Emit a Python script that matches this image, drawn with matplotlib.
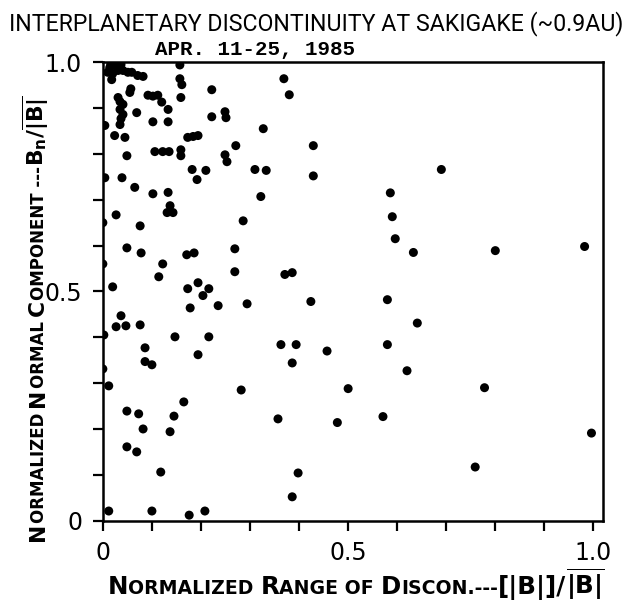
import matplotlib
matplotlib.use("Agg")
import matplotlib.pyplot as plt
from matplotlib.ticker import MultipleLocator, FixedLocator

# normalized range of discontinuity  [|B|]/<|B|>
range_norm = [
    0.016, 0.027, 0.037, 0.014, 0.024, 0.010, 0.020, 0.031, 0.041, 0.051,
    0.059, 0.071, 0.082, 0.018, 0.057, 0.055, 0.031, 0.035, 0.041, 0.035,
    0.041, 0.037, 0.035, 0.092, 0.102, 0.112, 0.120, 0.133, 0.157, 0.157,
    0.161, 0.159, 0.222, 0.069, 0.102, 0.133, 0.222, 0.249, 0.251, 0.004,
    0.024, 0.045, 0.327, 0.173, 0.184, 0.194, 0.271, 0.049, 0.106, 0.122,
    0.135, 0.159, 0.159, 0.249, 0.253, 0.182, 0.210, 0.192, 0.310, 0.333,
    0.004, 0.039, 0.065, 0.102, 0.133, 0.137, 0.322, 0.131, 0.143, 0.027,
    0.000, 0.076, 0.286, 0.049, 0.078, 0.171, 0.186, 0.269, 0.000, 0.122,
    0.269, 0.114, 0.020, 0.194, 0.173, 0.216, 0.204, 0.178, 0.235, 0.294,
    0.037, 0.027, 0.047, 0.076, 0.002, 0.147, 0.216, 0.086, 0.194, 0.086,
    0.100, 0.000, 0.012, 0.282, 0.165, 0.049, 0.073, 0.145, 0.082, 0.137,
    0.049, 0.069, 0.118, 0.012, 0.100, 0.176, 0.208, 0.369, 0.380, 0.429,
    0.429, 0.690, 0.586, 0.590, 0.596, 0.633, 0.371, 0.386, 0.424, 0.580,
    0.641, 0.363, 0.394, 0.386, 0.457, 0.580, 0.620, 0.500, 0.357, 0.478,
    0.571, 0.398, 0.386, 0.800, 0.982, 0.778, 0.996, 0.759,
]

# normalized normal component  Bn/<|B|>
normal_comp = [
    0.995, 0.998, 0.995, 0.988, 0.993, 0.978, 0.975, 0.982, 0.982, 0.978,
    0.978, 0.971, 0.969, 0.962, 0.942, 0.934, 0.923, 0.914, 0.908, 0.897,
    0.886, 0.877, 0.864, 0.928, 0.926, 0.928, 0.913, 0.897, 0.994, 0.964,
    0.951, 0.923, 0.940, 0.890, 0.870, 0.870, 0.881, 0.892, 0.879, 0.862,
    0.840, 0.836, 0.855, 0.836, 0.838, 0.840, 0.818, 0.796, 0.805, 0.805,
    0.805, 0.809, 0.796, 0.798, 0.783, 0.766, 0.764, 0.744, 0.766, 0.764,
    0.748, 0.748, 0.727, 0.713, 0.716, 0.687, 0.707, 0.672, 0.672, 0.667,
    0.650, 0.643, 0.654, 0.595, 0.584, 0.580, 0.584, 0.593, 0.560, 0.560,
    0.543, 0.532, 0.510, 0.519, 0.506, 0.506, 0.491, 0.464, 0.469, 0.473,
    0.447, 0.423, 0.425, 0.427, 0.405, 0.401, 0.401, 0.377, 0.362, 0.347,
    0.340, 0.331, 0.294, 0.285, 0.259, 0.239, 0.233, 0.228, 0.200, 0.194,
    0.161, 0.150, 0.106, 0.021, 0.021, 0.012, 0.021, 0.964, 0.929, 0.818,
    0.752, 0.766, 0.715, 0.663, 0.615, 0.585, 0.537, 0.541, 0.478, 0.482,
    0.431, 0.384, 0.384, 0.344, 0.370, 0.384, 0.327, 0.288, 0.222, 0.214,
    0.227, 0.104, 0.052, 0.589, 0.598, 0.290, 0.191, 0.117,
]

major_ticks = [0.0, 0.5, 1.0]
tick_labels = ["0", "0.5", "1.0"]

FONT = "Roboto"
LABEL_FONT = "DejaVu Sans"

fig = plt.figure(figsize=(6.31, 6.04), dpi=100)
ax = fig.add_axes([0.163, 0.138, 0.793, 0.759])
renderer = fig.canvas.get_renderer()

ax.scatter(range_norm, normal_comp, s=42, c="black", edgecolors="none", zorder=3)

ax.set_xlim(0, 1.02)
ax.set_ylim(0, 1.0)

for axis in (ax.xaxis, ax.yaxis):
    axis.set_major_locator(FixedLocator(major_ticks))
    axis.set_minor_locator(MultipleLocator(0.1))
ax.set_xticklabels(tick_labels)
ax.set_yticklabels(tick_labels)
ax.tick_params(which="both", direction="out", width=1.6, length=7,
               top=False, right=False, labelsize=17, pad=8)
for sp in ax.spines.values():
    sp.set_linewidth(1.8)


def fit_width(t, target_px):
    # shrink/grow a text so it spans target_px
    w = t.get_window_extent(renderer).width
    t.set_fontsize(t.get_fontsize() * target_px / w)


title = fig.text(316 / 631, 1 - 30 / 604, "INTERPLANETARY DISCONTINUITY AT SAKIGAKE (~0.9AU)",
                 ha="center", va="baseline", fontsize=17, family=FONT)
fit_width(title, 615)
sub = fig.text(155 / 631, 1 - 55 / 604, "APR. 11-25, 1985", ha="left", va="baseline",
               fontsize=15, family="Liberation Mono", weight="bold")
fit_width(sub, 200)


def piece_width(s, size):
    t = fig.text(0, 0, s, fontsize=size, family=LABEL_FONT, weight="bold")
    w = t.get_window_extent(renderer).width
    t.remove()
    return w


def small_caps(x0, y0, pieces, length_px, vertical=False):
    # write a line piece by piece so capitals can be larger (small caps look),
    # scaled so the whole line spans length_px
    W, H = fig.bbox.width, fig.bbox.height
    total = sum(piece_width(s, size) for s, size in pieces)
    scale = length_px / total
    pos = 0.0
    for s, size in pieces:
        size = size * scale
        if vertical:
            x, y = x0, y0 + pos / H
        else:
            x, y = x0 + pos / W, y0
        fig.text(x, y, s, fontsize=size, family=LABEL_FONT, weight="bold",
                 ha="left", va="baseline", rotation=90 if vertical else 0,
                 rotation_mode="anchor")
        pos += piece_width(s, size)


small_caps(108 / 631, 1 - 594 / 604, [
    ("N", 15), ("ORMALIZED ", 11.5), ("R", 15), ("ANGE OF ", 11.5),
    ("D", 15), ("ISCON.---", 11.5), ("[|B|]/", 15),
    ("$\\mathregular{\\overline{|B|}}$", 15)],
    length_px=497)
small_caps(44 / 631, 1 - 541 / 604, [
    ("N", 15), ("ORMALIZED ", 11.5), ("N", 15), ("ORMAL ", 11.5),
    ("C", 15), ("OMPONENT ---", 11.5), ("$\\mathregular{B_n/\\overline{|B|}}$", 15)],
    length_px=448, vertical=True)

fig.savefig("out.png", dpi=100)
